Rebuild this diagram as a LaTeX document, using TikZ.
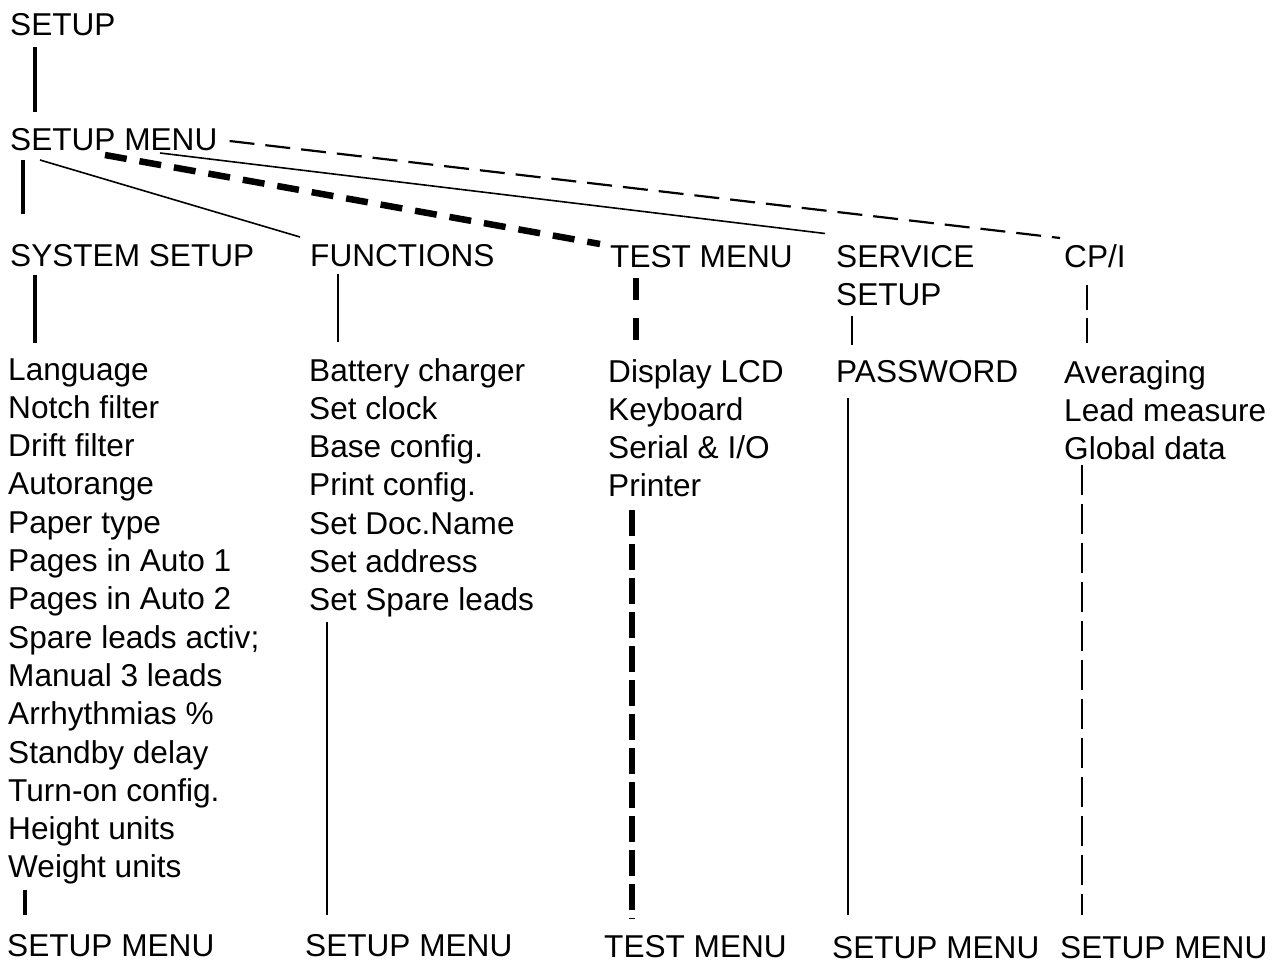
\documentclass[tikz,border=0pt]{standalone}
\usepackage{fontspec}
\setmainfont{Liberation Sans}
\usepackage{tikz}

\begin{document}
\begin{tikzpicture}[x=1pt,y=-1pt,
    menutext/.style={anchor=base west,inner sep=0pt,font=\fontsize{31.6}{38.5}\selectfont},
    heavy/.style={line width=4.5pt},
    fine/.style={line width=1.6pt},
    heavydash/.style={line width=6.5pt,dash pattern=on 22pt off 13pt},
    finedash/.style={line width=2.2pt,dash pattern=on 25pt off 11pt}]
  \useasboundingbox (0,0) rectangle (1279,964);

  % menu headings
  \node[menutext] (setup) at (10,35) {SETUP};
  \node[menutext] (menu) at (10,150) {SETUP MENU};
  \node[menutext] (sys) at (10,266) {SYSTEM SETUP};
  \node[menutext] (func) at (310,266) {FUNCTIONS};
  \node[menutext] (test) at (610,267) {TEST MENU};
  \node[menutext,align=left] (serv) at (836,305.5) {SERVICE\\SETUP};
  \node[menutext] (cpi) at (1064,267) {CP/I};

  % item lists
  \foreach \txt [count=\i] in {Language,Notch filter,Drift filter,Autorange,Paper type,Pages in Auto 1,Pages in Auto 2,Spare leads activ;,Manual 3 leads,Arrhythmias \%,Standby delay,Turn-on config.,Height units,Weight units}
    \node[menutext] (s\i) at (8,{380+38.3*(\i-1)}) {\txt};
  \foreach \txt [count=\i] in {Battery charger,Set clock,Base config.,Print config.,Set Doc.Name,Set address,Set Spare leads}
    \node[menutext] (f\i) at (309,{381+38.3*(\i-1)}) {\txt};
  \foreach \txt [count=\i] in {Display LCD,Keyboard,Serial \& I/O,Printer}
    \node[menutext] (t\i) at (608,{382+38.3*(\i-1)}) {\txt};
  \node[menutext] (pw) at (836,382) {PASSWORD};
  \foreach \txt [count=\i] in {Averaging,Lead measure,Global data}
    \node[menutext] (c\i) at (1064,{383+38.4*(\i-1)}) {\txt};

  % back to the menus
  \node[menutext] (sysend) at (7,956) {SETUP MENU};
  \node[menutext] (funcend) at (305,956) {SETUP MENU};
  \node[menutext] (testend) at (604,957) {TEST MENU};
  \node[menutext] (servend) at (832,958) {SETUP MENU};
  \node[menutext] (cpiend) at (1060,958) {SETUP MENU};

  % links from the top
  \draw[heavy] ([xshift=25pt,yshift=-12pt]setup.base west) -- ([xshift=25pt,yshift=38pt]menu.base west);
  \draw[heavy] ([xshift=13pt,yshift=-10pt]menu.base west) -- ([xshift=13pt,yshift=52pt]sys.base west);
  \draw[fine] ([xshift=30pt,yshift=-10pt]menu.base west) -- ([xshift=-10pt,yshift=29pt]func.base west);
  \draw[heavydash] ([xshift=95pt,yshift=-5pt]menu.base west) -- ([xshift=-10pt,yshift=23pt]test.base west);
  \draw[fine] ([xshift=150pt,yshift=-3pt]menu.base west) -- ([xshift=-11pt,yshift=72pt]serv.base west);
  \draw[finedash] ([xshift=12pt,yshift=9pt]menu.base east) -- ([xshift=-4pt,yshift=29pt]cpi.base west);

  % links into the lists
  \draw[heavy] ([xshift=25pt,yshift=-9pt]sys.base west) -- ([xshift=27pt,yshift=37pt]s1.base west);
  \draw[fine] ([xshift=28pt,yshift=-8pt]func.base west) -- ([xshift=29pt,yshift=39pt]f1.base west);
  \draw[heavydash,dash pattern=on 22pt off 18pt] ([xshift=26pt,yshift=-11pt]test.base west) -- ([xshift=28pt,yshift=42pt]t1.base west);
  \draw[fine] ([xshift=16pt,yshift=-10pt]serv.base west) -- ([xshift=16pt,yshift=37pt]pw.base west);
  \draw[finedash,dash pattern=on 25pt off 8pt] ([xshift=23pt,yshift=-18pt]cpi.base west) -- ([xshift=23pt,yshift=40pt]c1.base west);

  % links out of the lists
  \draw[heavy] ([xshift=17pt,yshift=-12pt]s14.base west) -- ([xshift=18pt,yshift=41pt]sysend.base west);
  \draw[fine] ([xshift=18pt,yshift=-11pt]f7.base west) -- ([xshift=22pt,yshift=41pt]funcend.base west);
  \draw[heavydash,dash pattern=on 26pt off 8pt] ([xshift=24pt,yshift=-13pt]t4.base west) -- ([xshift=28pt,yshift=39pt]testend.base west);
  \draw[fine] ([xshift=12pt,yshift=-16pt]pw.base west) -- ([xshift=16pt,yshift=43pt]servend.base west);
  \draw[finedash,dash pattern=on 30pt off 9pt] ([xshift=18pt,yshift=-5pt]c3.base west) -- ([xshift=22pt,yshift=43pt]cpiend.base west);
\end{tikzpicture}
\end{document}
